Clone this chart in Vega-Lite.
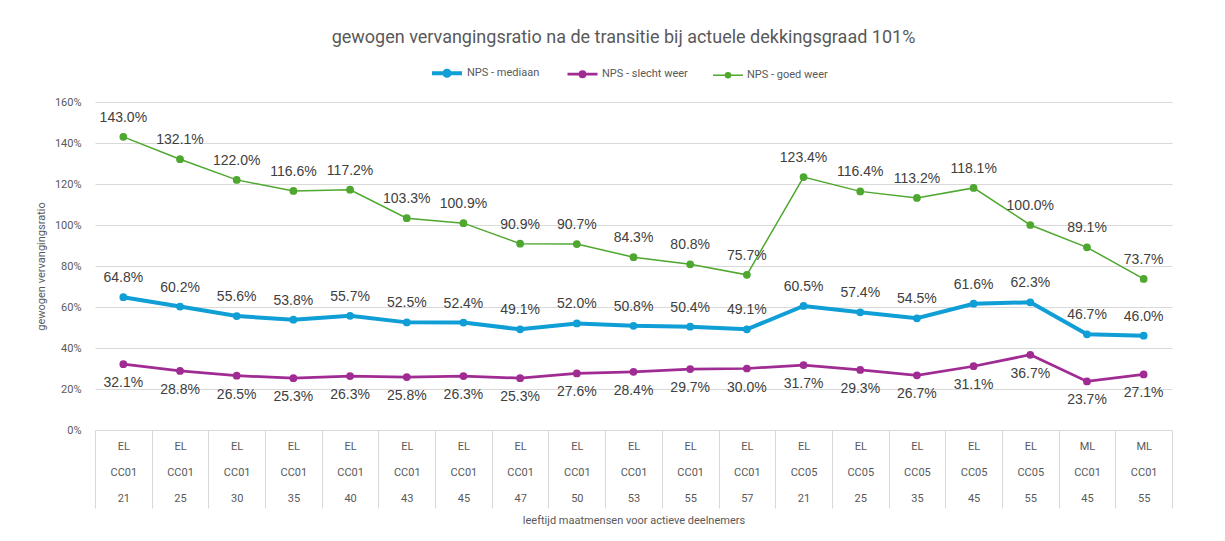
{
  "$schema": "https://vega.github.io/schema/vega-lite/v6.json",
  "width": 1077,
  "height": 328,
  "autosize": {"type": "none"},
  "padding": {"left": 95, "top": 102, "right": 53, "bottom": 111},
  "background": "white",
  "title": {
    "text": "gewogen vervangingsratio na de transitie bij actuele dekkingsgraad 101%",
    "font": "Roboto",
    "fontSize": 18,
    "fontWeight": "normal",
    "color": "#595959",
    "anchor": "middle",
    "frame": "group",
    "dx": -10,
    "offset": 9
  },
  "config": {"view": {"stroke": null}},
  "data": {
    "values": [
      {"cat": "EL|CC01|21", "NPS - mediaan": 0.648, "NPS - slecht weer": 0.321, "NPS - goed weer": 1.430},
      {"cat": "EL|CC01|25", "NPS - mediaan": 0.602, "NPS - slecht weer": 0.288, "NPS - goed weer": 1.321},
      {"cat": "EL|CC01|30", "NPS - mediaan": 0.556, "NPS - slecht weer": 0.265, "NPS - goed weer": 1.220},
      {"cat": "EL|CC01|35", "NPS - mediaan": 0.538, "NPS - slecht weer": 0.253, "NPS - goed weer": 1.166},
      {"cat": "EL|CC01|40", "NPS - mediaan": 0.557, "NPS - slecht weer": 0.263, "NPS - goed weer": 1.172},
      {"cat": "EL|CC01|43", "NPS - mediaan": 0.525, "NPS - slecht weer": 0.258, "NPS - goed weer": 1.033},
      {"cat": "EL|CC01|45", "NPS - mediaan": 0.524, "NPS - slecht weer": 0.263, "NPS - goed weer": 1.009},
      {"cat": "EL|CC01|47", "NPS - mediaan": 0.491, "NPS - slecht weer": 0.253, "NPS - goed weer": 0.909},
      {"cat": "EL|CC01|50", "NPS - mediaan": 0.520, "NPS - slecht weer": 0.276, "NPS - goed weer": 0.907},
      {"cat": "EL|CC01|53", "NPS - mediaan": 0.508, "NPS - slecht weer": 0.284, "NPS - goed weer": 0.843},
      {"cat": "EL|CC01|55", "NPS - mediaan": 0.504, "NPS - slecht weer": 0.297, "NPS - goed weer": 0.808},
      {"cat": "EL|CC01|57", "NPS - mediaan": 0.491, "NPS - slecht weer": 0.300, "NPS - goed weer": 0.757},
      {"cat": "EL|CC05|21", "NPS - mediaan": 0.605, "NPS - slecht weer": 0.317, "NPS - goed weer": 1.234},
      {"cat": "EL|CC05|25", "NPS - mediaan": 0.574, "NPS - slecht weer": 0.293, "NPS - goed weer": 1.164},
      {"cat": "EL|CC05|35", "NPS - mediaan": 0.545, "NPS - slecht weer": 0.267, "NPS - goed weer": 1.132},
      {"cat": "EL|CC05|45", "NPS - mediaan": 0.616, "NPS - slecht weer": 0.311, "NPS - goed weer": 1.181},
      {"cat": "EL|CC05|55", "NPS - mediaan": 0.623, "NPS - slecht weer": 0.367, "NPS - goed weer": 1.000},
      {"cat": "ML|CC01|45", "NPS - mediaan": 0.467, "NPS - slecht weer": 0.237, "NPS - goed weer": 0.891},
      {"cat": "ML|CC01|55", "NPS - mediaan": 0.460, "NPS - slecht weer": 0.271, "NPS - goed weer": 0.737}
    ]
  },
  "transform": [
    {"fold": ["NPS - mediaan", "NPS - slecht weer", "NPS - goed weer"], "as": ["series", "v"]}
  ],
  "encoding": {
    "x": {
      "field": "cat",
      "type": "nominal",
      "sort": null,
      "scale": {"type": "band", "paddingInner": 0, "paddingOuter": 0},
      "axis": {
        "title": "leeftijd maatmensen voor actieve deelnemers",
        "labelExpr": "split(datum.label, '|')",
        "labelAngle": 0,
        "labelBaseline": "top",
        "labelLineHeight": 26,
        "labelPadding": -68,
        "labelOverlap": false,
        "labelBound": false,
        "tickSize": 78,
        "tickBand": "extent",
        "tickColor": "#D9D9D9",
        "domainColor": "#D9D9D9",
        "labelColor": "#595959",
        "labelFont": "Roboto",
        "labelFontSize": 11,
        "titleFont": "Roboto",
        "titleFontSize": 11,
        "titleFontWeight": "normal",
        "titleColor": "#595959",
        "titlePadding": 6,
        "grid": false
      }
    },
    "y": {
      "field": "v",
      "type": "quantitative",
      "scale": {"domain": [0, 1.6], "nice": false},
      "axis": {
        "title": "gewogen vervangingsratio",
        "format": ".0%",
        "values": [0, 0.2, 0.4, 0.6, 0.8, 1.0, 1.2, 1.4, 1.6],
        "domain": false,
        "ticks": false,
        "gridColor": "#D9D9D9",
        "labelPadding": 14,
        "labelColor": "#595959",
        "labelFont": "Roboto",
        "labelFontSize": 11,
        "titleFont": "Roboto",
        "titleFontSize": 11,
        "titleFontWeight": "normal",
        "titleColor": "#595959",
        "titlePadding": 8
      }
    }
  },
  "layer": [
    {
      "mark": {"type": "line", "point": {"filled": true, "size": 60}},
      "encoding": {
        "color": {
          "field": "series",
          "type": "nominal",
          "scale": {
            "domain": ["NPS - mediaan", "NPS - slecht weer", "NPS - goed weer"],
            "range": ["#0F9ED5", "#A02B93", "#4EA72E"]
          },
          "legend": {
            "orient": "none",
            "legendX": 335,
            "legendY": -46,
            "direction": "horizontal",
            "title": null,
            "symbolType": "M-1,0L1,0M-0.17,0A0.17,0.17,0,1,0,0.17,0A0.17,0.17,0,1,0,-0.17,0",
            "symbolSize": 900,
            "symbolStrokeWidth": 2,
            "labelFont": "Roboto",
            "labelFontSize": 11,
            "labelColor": "#595959",
            "labelOffset": 3,
            "columnPadding": 22,
            "encode": {
              "symbols": {
                "update": {
                  "fill": {"scale": "color", "field": "value"},
                  "strokeWidth": {"scale": "strokeWidth", "field": "value"}
                }
              }
            }
          }
        },
        "strokeWidth": {
          "field": "series",
          "type": "nominal",
          "scale": {
            "domain": ["NPS - mediaan", "NPS - slecht weer", "NPS - goed weer"],
            "range": [4, 1.5, 1.5]
          },
          "legend": null
        }
      }
    },
    {
      "transform": [{"filter": "datum.series != 'NPS - slecht weer'"}],
      "mark": {"type": "text", "dy": -19, "font": "Liberation Sans", "fontSize": 14, "color": "#404040"},
      "encoding": {"text": {"field": "v", "type": "quantitative", "format": ".1%"}}
    },
    {
      "transform": [{"filter": "datum.series == 'NPS - slecht weer'"}],
      "mark": {"type": "text", "dy": 19, "font": "Liberation Sans", "fontSize": 14, "color": "#404040"},
      "encoding": {"text": {"field": "v", "type": "quantitative", "format": ".1%"}}
    }
  ]
}
